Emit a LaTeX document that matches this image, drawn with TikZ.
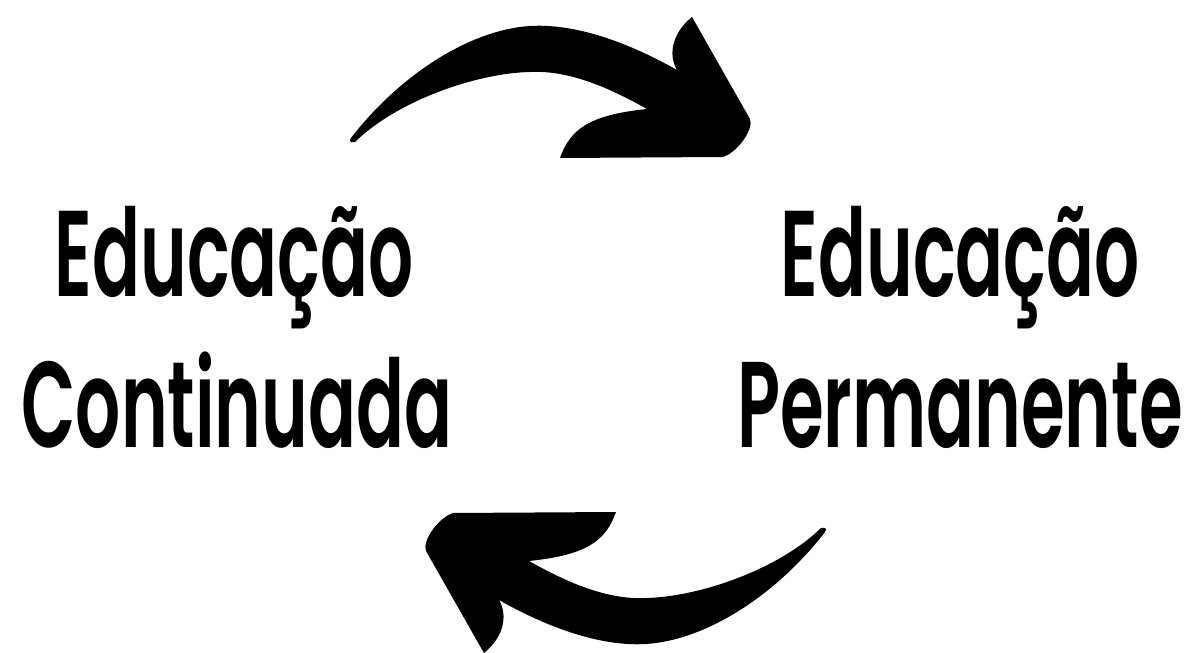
\documentclass[tikz,border=0pt]{standalone}
\usepackage{fontspec}
\setmainfont{Poppins}[BoldFont={Poppins SemiBold}]
\usetikzlibrary{positioning}

% squeeze the label text into a tall condensed look
\newcommand{\condtext}[1]{\scalebox{0.58}[1]{#1}}

\begin{document}
\begin{tikzpicture}[x=1pt, y=1pt,
  lbl/.style={font=\fontsize{122}{122}\selectfont\bfseries, inner sep=0pt, anchor=base},
  turn/.pic={
    \fill (-237,197) .. controls (-190,258) and (-120,305) .. (-58,309)
      .. controls (-10,312) and (45,290) .. (89,265)
      .. controls (80,280) and (84,302) .. (104,318)
      -- (162,216) .. controls (166,206) and (150,183) .. (135,178)
      -- (-28,177) .. controls (-18,205) and (0,220) .. (59,226)
      .. controls (20,248) and (-20,265) .. (-58,263)
      .. controls (-110,262) and (-190,235) .. (-233,193)
      .. controls (-238,192) and (-239,194) .. (-237,197) -- cycle;
  }]
\useasboundingbox (-588,-318) rectangle (607,335);

% left and right labels
\node[lbl] (cedu) at (-354,38) {\condtext{Educação}};
\node[lbl] (ccont) at (-351,-113) {\condtext{Continuada}};
\node[lbl] (pedu) at (372,38) {\condtext{Educação}};
\node[lbl] (pperm) at (372,-113) {\condtext{Permanente}};

% the two turning arrows
\pic {turn};
\pic[rotate=180] {turn};
\end{tikzpicture}
\end{document}
